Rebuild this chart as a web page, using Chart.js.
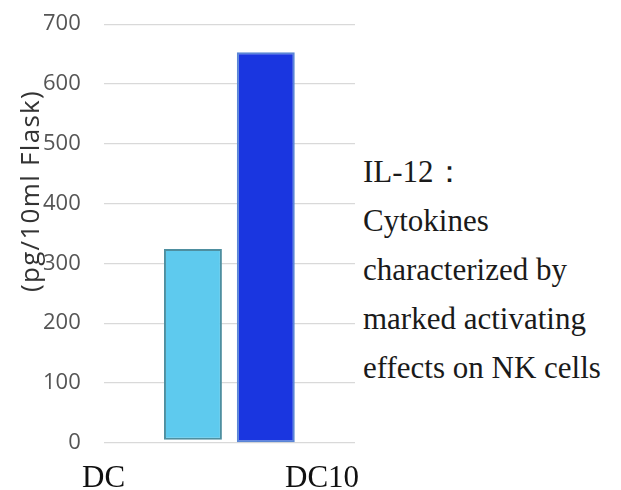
<!DOCTYPE html>
<html lang="en">
<head>
    <meta charset="UTF-8">
    <script src="https://cdn.jsdelivr.net/npm/chart.js"></script>
    <style>
        body, html {
            margin: 0;
            padding: 0;
            background: #fff;
        }
        #wrap {
            position: relative;
            width: 621px;
            height: 490px;
            overflow: hidden;
        }
        #chartBox {
            position: absolute;
            left: 0;
            top: -12px;
            width: 360px;
            height: 491px;
        }
        #yTitle {
            position: absolute;
            left: 29px;
            top: 191px;
            transform: translate(-50%, -50%) rotate(-90deg);
            white-space: nowrap;
            font-family: "Open Sans", sans-serif;
            font-size: 26px;
            letter-spacing: 1.3px;
            color: #333;
        }
        .cat {
            position: absolute;
            top: 461px;
            font-family: "Liberation Serif", serif;
            font-size: 31px;
            line-height: 31px;
            color: #111;
        }
        #note {
            position: absolute;
            left: 363px;
            top: 147px;
            font-family: "Liberation Serif", serif;
            font-size: 31px;
            line-height: 49px;
            color: #1a1a1a;
            white-space: nowrap;
        }
    </style>
</head>
<body>
    <div id="wrap">
        <div id="chartBox"><canvas id="chart"></canvas></div>
        <div id="yTitle">(pg/10ml Flask)</div>
        <div class="cat" style="left:82px">DC</div>
        <div class="cat" style="left:285px">DC10</div>
        <div id="note">IL-12：<br>Cytokines<br>characterized by<br>marked activating<br>effects on NK cells</div>
    </div>

    <script>
        // data
        const categories = [''];
        const seriesNames = ['DC', 'DC10'];
        const dcValues = [[5, 324]];   // light bar sits a little above 0
        const dc10Values = [653];
        const yTicks = [0, 100, 200, 300, 400, 500, 600, 700];

        new Chart(document.getElementById('chart'), {
            type: 'bar',
            data: {
                labels: categories,
                datasets: [{
                    label: seriesNames[0],
                    data: dcValues,
                    backgroundColor: '#5ecaee',
                    borderColor: '#4e8fa0',
                    borderWidth: 2,
                    borderSkipped: false
                }, {
                    label: seriesNames[1],
                    data: dc10Values,
                    backgroundColor: '#1a36e0',
                    borderColor: '#5a86d6',
                    borderWidth: 2,
                    borderSkipped: false
                }]
            },
            options: {
                responsive: true,
                maintainAspectRatio: false,
                animation: false,
                categoryPercentage: 0.58,
                barPercentage: 0.795,
                layout: {
                    padding: { left: 20, right: 5, top: 10, bottom: 8 }
                },
                plugins: {
                    legend: { display: false },
                    tooltip: { enabled: false }
                },
                scales: {
                    x: { display: false },
                    y: {
                        min: yTicks[0],
                        max: yTicks[yTicks.length - 1],
                        afterBuildTicks: axis => {
                            axis.ticks = yTicks.map(v => ({ value: v }));
                        },
                        border: { display: false },
                        grid: { color: '#d9d9d9', lineWidth: 1.2, drawTicks: false },
                        ticks: {
                            padding: 23,
                            color: '#555',
                            font: { family: 'Open Sans', size: 22 }
                        }
                    }
                }
            }
        });
    </script>
</body>
</html>
